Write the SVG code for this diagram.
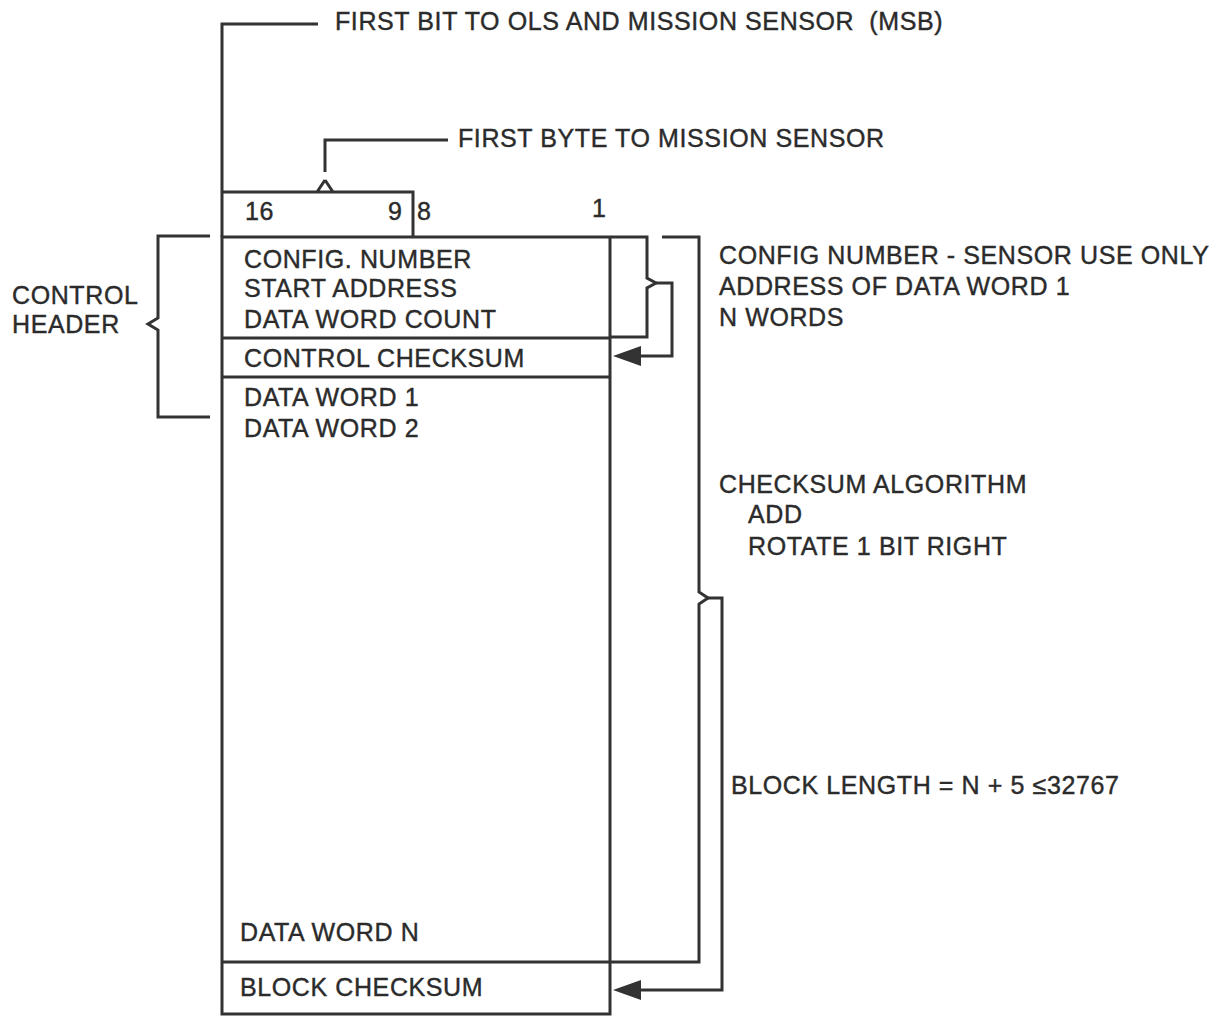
<svg xmlns="http://www.w3.org/2000/svg" width="1218" height="1016" viewBox="0 0 1218 1016">
<style>
.t{font-family:"Liberation Sans",Arial,sans-serif;font-size:25px;letter-spacing:0.6px;fill:#2b2b2b;stroke:#2b2b2b;stroke-width:0.4px}
.l{fill:none;stroke:#333;stroke-width:3;stroke-linejoin:miter}
.a{fill:#333;stroke:none}
</style>
<rect width="1218" height="1016" fill="#fff"/>
<g id="word-box">
<path class="l" d="M222,192 H413 V237 M325,180 L317,192 M325,180 L333,192"/>
<rect class="l" x="222" y="237" width="388" height="777"/>
<line class="l" x1="222" y1="338" x2="610" y2="338"/>
<line class="l" x1="222" y1="377" x2="610" y2="377"/>
<line class="l" x1="222" y1="962" x2="610" y2="962"/>
<text class="t" x="245" y="220">16</text>
<text class="t" x="388" y="220">9</text>
<text class="t" x="417" y="220">8</text>
<text class="t" x="592" y="217">1</text>
<text class="t" x="244" y="268">CONFIG. NUMBER</text>
<text class="t" x="244" y="297">START ADDRESS</text>
<text class="t" x="244" y="328">DATA WORD COUNT</text>
<text class="t" x="244" y="367">CONTROL CHECKSUM</text>
<text class="t" x="244" y="406">DATA WORD 1</text>
<text class="t" x="244" y="437">DATA WORD 2</text>
<text class="t" x="240" y="941">DATA WORD N</text>
<text class="t" x="240" y="996">BLOCK CHECKSUM</text>
</g>
<g id="msb-label">
<text class="t" x="335" y="30" xml:space="preserve">FIRST BIT TO OLS AND MISSION SENSOR  (MSB)</text>
</g>
<g id="byte-label">
<text class="t" x="458" y="147">FIRST BYTE TO MISSION SENSOR</text>
</g>
<g id="control-header">
<text class="t" x="12" y="304">CONTROL</text>
<text class="t" x="12" y="333">HEADER</text>
</g>
<g id="header-notes">
<text class="t" x="719" y="264">CONFIG NUMBER - SENSOR USE ONLY</text>
<text class="t" x="719" y="295">ADDRESS OF DATA WORD 1</text>
<text class="t" x="719" y="326">N WORDS</text>
</g>
<g id="checksum-notes">
<text class="t" x="719" y="493">CHECKSUM ALGORITHM</text>
<text class="t" x="748" y="523">ADD</text>
<text class="t" x="748" y="555">ROTATE 1 BIT RIGHT</text>
</g>
<g id="block-length">
<text class="t" x="731" y="794">BLOCK LENGTH = N + 5 ≤32767</text>
</g>
<g id="connectors">
<path class="l" d="M222,237 V24 H318"/>
<path class="l" d="M325,172 V140 H448"/>
<path class="l" d="M210,236 H158 V318 L148,324 L158,330 V417 H210"/>
<path class="l" d="M611,237 H647 V278 L656,283 L647,288 V337 H611"/>
<path class="l" d="M656,283 H672 V356 H640"/>
<path class="a" d="M613,356 L641,346 L641,366 Z"/>
<path class="l" d="M662,237 H699 V592 L708,598 L699,604 V962 H611"/>
<path class="l" d="M708,598 H722 V990 H640"/>
<path class="a" d="M613,990 L641,980 L641,1000 Z"/>
</g>
</svg>
